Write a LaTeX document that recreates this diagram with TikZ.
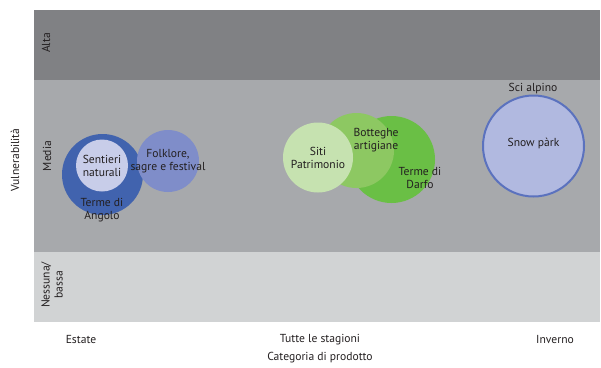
\documentclass[tikz,border=0pt]{standalone}
\usepackage{fontspec}
\setmainfont{PT Sans}
\definecolor{bandhigh}{RGB}{128, 129, 132}
\definecolor{bandmid}{RGB}{167, 169, 172}
\definecolor{bandlow}{RGB}{209, 211, 212}
\definecolor{txtgray}{RGB}{35, 31, 32}
\definecolor{blueangolo}{RGB}{65, 99, 174}
\definecolor{bluesentieri}{RGB}{200, 205, 233}
\definecolor{bluefolk}{RGB}{127, 141, 201}
\definecolor{bluesnow}{RGB}{177, 185, 224}
\definecolor{bluerim}{RGB}{91, 114, 190}
\definecolor{greensiti}{RGB}{198, 226, 176}
\definecolor{greenbott}{RGB}{141, 200, 98}
\definecolor{greendarfo}{RGB}{106, 191, 69}
\usetikzlibrary{positioning}

\tikzset{
  lbl/.style={font=\fontsize{11.6}{13}\selectfont, text=txtgray, align=center, inner sep=0pt},
  vlbl/.style={lbl, rotate=90},
  bubble/.style={circle, inner sep=0pt, draw=none}
}

\begin{document}
\begin{tikzpicture}[x=1pt, y=-1pt]
  \useasboundingbox (0,0) rectangle (601,367);

  % Bands of vulnerability
  \fill[bandhigh] (34,10) rectangle (600,80);
  \fill[bandmid] (34,80) rectangle (600,252);
  \fill[bandlow] (34,252) rectangle (600,322);

  \node[vlbl] (alta) at (46,43) {Alta};
  \node[vlbl] (media) at (47,156) {Media};
  \node[vlbl] (bassa) at (52,285) {Nessuna/\\bassa};
  \node[vlbl] (vuln) at (15,160) {Vulnerabilità};

  % Estate
  \node[bubble, fill=blueangolo, minimum size=81pt] (angolo) at (102.5,174.5) {};
  \node[bubble, fill=bluesentieri, minimum size=52pt] (sentieri) at (102,165.5) {};
  \node[bubble, fill=bluefolk, minimum size=62pt] (folk) at (168,161) {};
  \node[lbl] (sentieritxt) at (102,165.5) {Sentieri\\naturali};
  \node[lbl] (angolotxt) at (102,210) {Terme di\\Angolo};
  \node[lbl] (folktxt) at (168,161) {Folklore,\\sagre e festival};

  % Tutte le stagioni
  \node[bubble, fill=greendarfo, minimum size=87pt] (darfo) at (391.5,159.5) {};
  \node[bubble, fill=greenbott, minimum size=75pt] (bott) at (356.5,150.5) {};
  \node[bubble, fill=greensiti, minimum size=70pt] (siti) at (318,157.5) {};
  \node[lbl] (sititxt) at (318,158) {Siti\\Patrimonio};
  \node[lbl] (botttxt) at (376,140) {Botteghe\\artigiane};
  \node[lbl] (darfotxt) at (420,178) {Terme di\\Darfo};

  % Inverno
  \node[bubble, fill=bluesnow, draw=bluerim, line width=2pt, minimum size=101pt] (snow) at (533.5,146) {};
  \node[lbl] (snowtxt) at (533.5,143) {Snow pàrk};
  \node[lbl] (sci) at (533,89) {Sci alpino};

  % Axis labels
  \node[lbl] (estate) at (81,340) {Estate};
  \node[lbl] (tutte) at (320,340) {Tutte le stagioni};
  \node[lbl] (inverno) at (555,340) {Inverno};
  \node[lbl] (categoria) at (320,358) {Categoria di prodotto};
\end{tikzpicture}
\end{document}
